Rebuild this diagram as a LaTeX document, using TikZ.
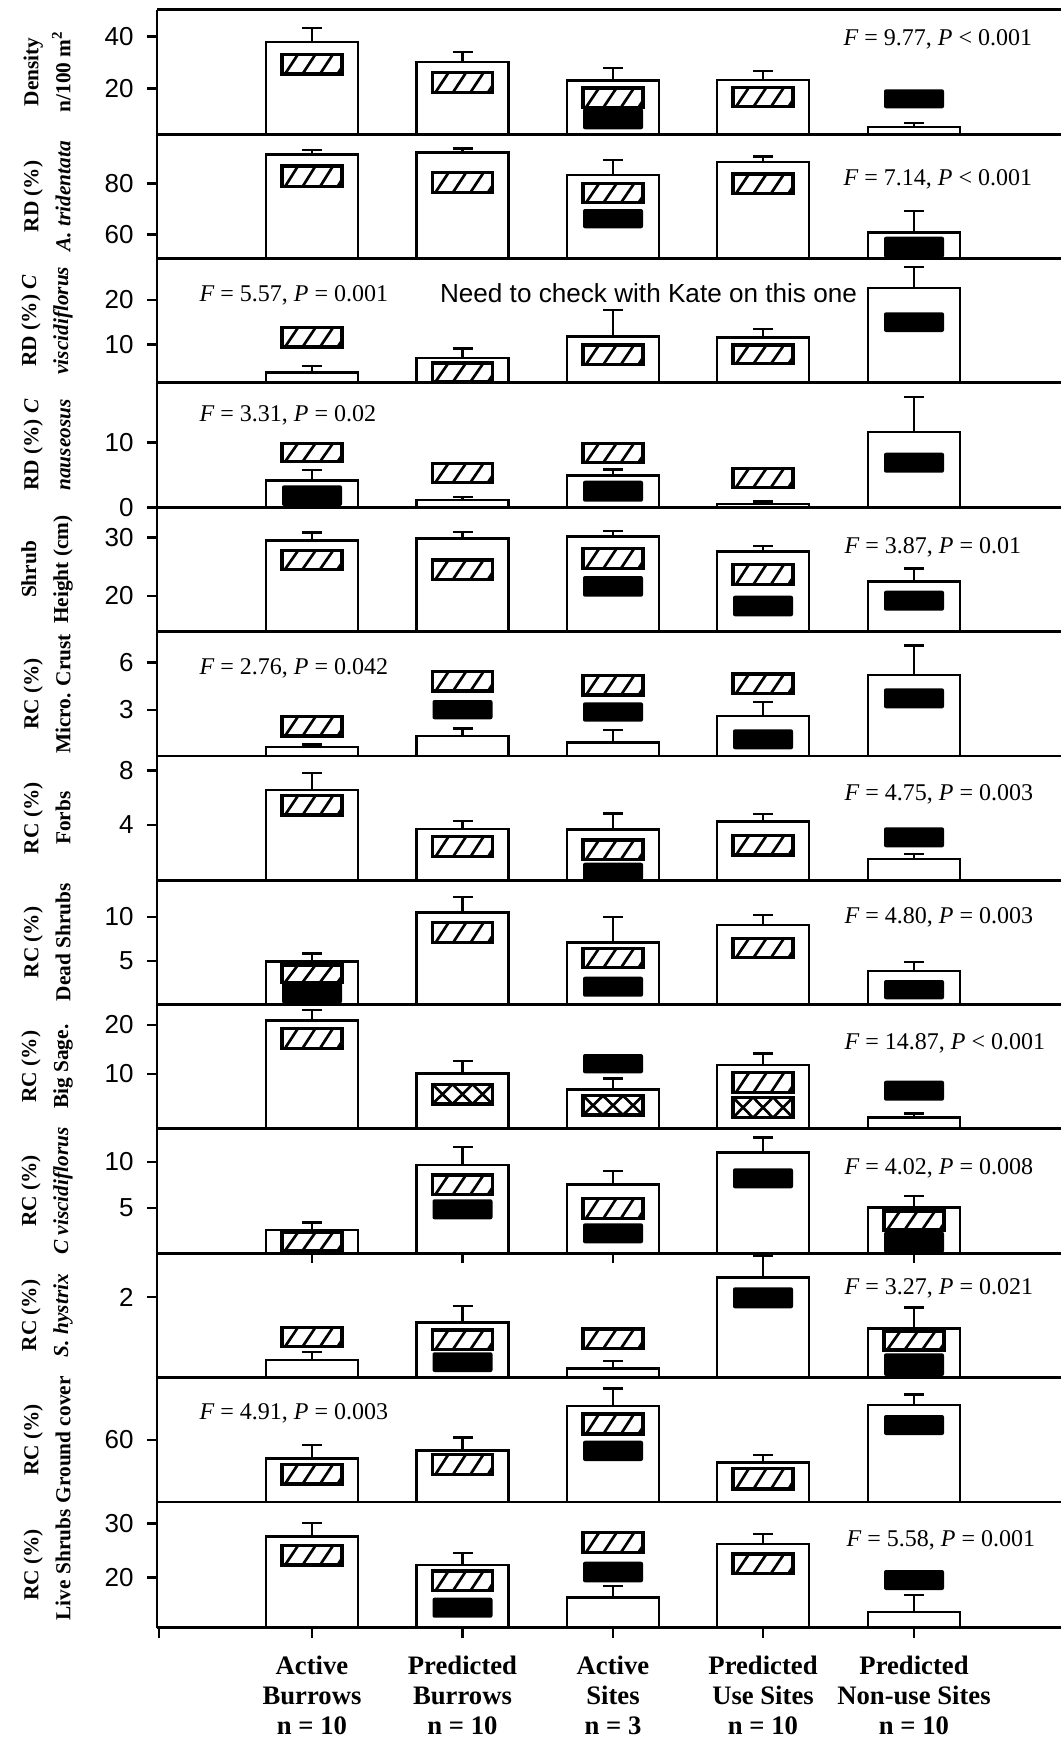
\documentclass[tikz,border=0pt]{standalone}
\usepackage{fontspec}
\setmainfont{Liberation Serif}
\newfontfamily\arialfont{Liberation Sans}

\tikzset{every picture/.style={line width=0.75pt}}
\tikzset{
  frameline/.style={line width=2.2pt},
  barline/.style={draw, fill=white, line width=2pt},
  errline/.style={line width=1.8pt},
  boxline/.style={line width=2.3pt},
  hatchline/.style={line width=2pt},
  fptext/.style={anchor=west, inner sep=0pt, font=\fontsize{18}{20}\selectfont},
  notetext/.style={inner sep=0pt, font=\arialfont\fontsize{19.6}{22}\selectfont},
  ticklab/.style={anchor=east, inner sep=0pt, font=\arialfont\fontsize{19.5}{20}\selectfont},
  ytitle/.style={rotate=90, align=center, inner sep=0pt, font=\bfseries\fontsize{16}{24}\selectfont},
  catlab/.style={align=center, inner sep=0pt, font=\bfseries\fontsize{20}{22.5}\selectfont}
}

% bar: centre x, bottom, top, error top
\newcommand{\plotbar}[4]{%
  \draw[barline] (#1-46,#2) rectangle (#1+46,#3);
  \draw[errline] (#1,#3) -- (#1,#4) (#1-10,#4) -- (#1+10,#4);}
% boxes: centre x, top, bottom
\newcommand{\hatchbox}[3]{%
  \fill[white] (#1-30,#2) rectangle (#1+30,#3);
  \begin{scope}
    \clip (#1-30,#2) rectangle (#1+30,#3);
    \foreach \s in {-27,-9.5,8,25.5}
      \draw[hatchline] (#1+\s,#3) -- (#1+\s+13,#2);
  \end{scope}
  \draw[boxline] (#1-30,#2) rectangle (#1+30,#3);}
\newcommand{\crossbox}[3]{%
  \fill[white] (#1-30,#2) rectangle (#1+30,#3);
  \begin{scope}
    \clip (#1-30,#2) rectangle (#1+30,#3);
    \foreach \s in {-20,0,20}
      \draw[hatchline] (#1+\s-10,#3) -- (#1+\s+10,#2) (#1+\s-10,#2) -- (#1+\s+10,#3);
  \end{scope}
  \draw[boxline] (#1-30,#2) rectangle (#1+30,#3);}
\newcommand{\blackbox}[3]{%
  \fill[black, rounded corners=1.5pt] (#1-30,#2) rectangle (#1+30,#3);}
% y tick: node name, y, label
\newcommand{\ytick}[3]{%
  \draw[frameline] (147,#2) -- (157,#2);
  \node[ticklab] (#1) at (134,#2) {#3};}

\begin{document}
\begin{tikzpicture}[x=0.75pt,y=0.75pt,yscale=-1,xscale=1]
\useasboundingbox (0,0) rectangle (1061,1742);
\fill[white] (0,0) rectangle (1061,1742);

%Panel: Density
\plotbar{312}{134.3}{42}{28}
\hatchbox{312}{54.3}{74}
\plotbar{462.5}{134.3}{62}{51.7}
\hatchbox{462.5}{72.7}{92.3}
\plotbar{613}{134.3}{80.7}{67.7}
\hatchbox{613}{88}{107.3}
\blackbox{613}{108.3}{129.3}
\plotbar{763}{134.3}{80}{70.7}
\hatchbox{763}{87.3}{106.7}
\plotbar{914}{134.3}{127}{123}
\blackbox{914}{89.3}{108.3}

%Panel: A. tridentata
\plotbar{312}{258.5}{154.3}{150}
\hatchbox{312}{166}{186.7}
\plotbar{462.5}{258.5}{152.7}{148.3}
\hatchbox{462.5}{172.7}{192.3}
\plotbar{613}{258.5}{175}{159.7}
\hatchbox{613}{183.7}{202.7}
\blackbox{613}{209}{228.3}
\plotbar{763}{258.5}{162}{156.3}
\hatchbox{763}{174}{193.5}
\plotbar{914}{258.5}{232.7}{211}
\blackbox{914}{236.7}{257.7}

%Panel: RD C. viscidiflorus
\plotbar{312}{382.8}{372.3}{365.7}
\hatchbox{312}{327.7}{347}
\plotbar{462.5}{382.8}{358}{348.3}
\hatchbox{462.5}{363}{381.7}
\plotbar{613}{382.8}{336.3}{310}
\hatchbox{613}{345}{364.3}
\plotbar{763}{382.8}{337.7}{329}
\hatchbox{763}{345}{363.7}
\plotbar{914}{382.8}{288}{266.7}
\blackbox{914}{312.3}{332}

%Panel: RD C. nauseosus
\plotbar{312}{507.2}{480.7}{470}
\hatchbox{312}{443.3}{461.7}
\blackbox{312}{485.3}{506}
\plotbar{462.5}{507.2}{500}{496.7}
\hatchbox{462.5}{463.3}{482.3}
\plotbar{613}{507.2}{475.3}{469.3}
\hatchbox{613}{443.3}{462.3}
\blackbox{613}{480.7}{501.7}
\plotbar{763}{507.2}{504}{501.3}
\hatchbox{763}{468.3}{487.3}
\plotbar{914}{507.2}{432}{396.7}
\blackbox{914}{452.7}{472.7}

%Panel: Shrub height
\plotbar{312}{631.7}{540.7}{532.3}
\hatchbox{312}{550.7}{569.3}
\plotbar{462.5}{631.7}{538.7}{531.7}
\hatchbox{462.5}{560}{579.3}
\plotbar{613}{631.7}{536.3}{531}
\hatchbox{613}{548.7}{568.3}
\blackbox{613}{576}{596.7}
\plotbar{763}{631.7}{551.7}{545.7}
\hatchbox{763}{564.3}{584.3}
\blackbox{763}{595.7}{616.3}
\plotbar{914}{631.7}{581.7}{568.3}
\blackbox{914}{590.7}{610.7}

%Panel: Micro. crust
\plotbar{312}{756}{747}{744.3}
\hatchbox{312}{716.7}{736}
\plotbar{462.5}{756}{736}{728.3}
\hatchbox{462.5}{671.7}{691}
\blackbox{462.5}{700}{719.3}
\plotbar{613}{756}{742.7}{730}
\hatchbox{613}{675.7}{695}
\blackbox{613}{702.3}{721.7}
\plotbar{763}{756}{716}{701.7}
\hatchbox{763}{674}{693.3}
\blackbox{763}{729.3}{749.3}
\plotbar{914}{756}{675}{645.3}
\blackbox{914}{688.3}{708.3}

%Panel: Forbs
\plotbar{312}{880.3}{790}{772.7}
\hatchbox{312}{795.7}{815}
\plotbar{462.5}{880.3}{829}{820.7}
\hatchbox{462.5}{836.7}{856.7}
\plotbar{613}{880.3}{829.3}{813.3}
\hatchbox{613}{840}{859.3}
\blackbox{613}{862.7}{880.3}
\plotbar{763}{880.3}{821.7}{814}
\hatchbox{763}{835.7}{855}
\plotbar{914}{880.3}{859}{854}
\blackbox{914}{827.3}{847.3}

%Panel: Dead shrubs
\plotbar{312}{1004.5}{961.7}{953.3}
\hatchbox{312}{965}{982.3}
\blackbox{312}{982.3}{1003.3}
\plotbar{462.5}{1004.5}{912.3}{896.7}
\hatchbox{462.5}{922.7}{942.7}
\plotbar{613}{1004.5}{942.3}{916.7}
\hatchbox{613}{948.3}{967.7}
\blackbox{613}{976.7}{996.7}
\plotbar{763}{1004.5}{925}{915}
\hatchbox{763}{938.3}{957.7}
\plotbar{914}{1004.5}{971}{961.7}
\blackbox{914}{980}{999.3}

%Panel: Big sage
\plotbar{312}{1128.6}{1020.7}{1010}
\hatchbox{312}{1028.3}{1048.3}
\plotbar{462.5}{1128.6}{1073.3}{1061}
\crossbox{462.5}{1084.3}{1104}
\plotbar{613}{1128.6}{1089.3}{1078.3}
\blackbox{613}{1054}{1073.3}
\crossbox{613}{1095.7}{1115}
\plotbar{763}{1128.6}{1065}{1053.3}
\hatchbox{763}{1072.7}{1092.3}
\crossbox{763}{1097.3}{1117.7}
\plotbar{914}{1128.6}{1117.3}{1113.3}
\blackbox{914}{1080.7}{1100.7}

%Panel: RC C. viscidiflorus
\plotbar{312}{1253.4}{1230}{1222.3}
\hatchbox{312}{1232.3}{1250.7}
\plotbar{462.5}{1253.4}{1165}{1146.7}
\hatchbox{462.5}{1175}{1194.3}
\blackbox{462.5}{1199.3}{1219.3}
\plotbar{613}{1253.4}{1184.3}{1170.7}
\hatchbox{613}{1198.3}{1218.3}
\blackbox{613}{1223.3}{1243.3}
\plotbar{763}{1253.4}{1152.3}{1137.3}
\blackbox{763}{1168.3}{1188.3}
\plotbar{914}{1253.4}{1207.3}{1195.7}
\hatchbox{914}{1211}{1230}
\blackbox{914}{1231.7}{1252.7}

%Panel: S. hystrix
\plotbar{312}{1377.6}{1360}{1351.7}
\hatchbox{312}{1327.3}{1346.7}
\plotbar{462.5}{1377.6}{1322.7}{1306}
\hatchbox{462.5}{1330}{1349.3}
\blackbox{462.5}{1352.3}{1372}
\plotbar{613}{1377.6}{1368.3}{1360.7}
\hatchbox{613}{1329}{1348.3}
\plotbar{763}{1377.6}{1277.3}{1256}
\blackbox{763}{1287.3}{1308.3}
\plotbar{914}{1377.6}{1328.3}{1307.3}
\hatchbox{914}{1331.7}{1350}
\blackbox{914}{1353.3}{1376}

%Panel: Ground cover
\plotbar{312}{1502}{1458.3}{1445}
\hatchbox{312}{1464.3}{1484}
\plotbar{462.5}{1502}{1450.7}{1437.3}
\hatchbox{462.5}{1454.3}{1474.3}
\plotbar{613}{1502}{1406}{1388.3}
\hatchbox{613}{1414}{1434}
\blackbox{613}{1440.7}{1461}
\plotbar{763}{1502}{1462.7}{1455}
\hatchbox{763}{1468.3}{1489}
\plotbar{914}{1502}{1405}{1394.3}
\blackbox{914}{1415}{1435}

%Panel: Live shrubs
\plotbar{312}{1627.5}{1536.7}{1522.7}
\hatchbox{312}{1545.7}{1565}
\plotbar{462.5}{1627.5}{1565}{1552.7}
\hatchbox{462.5}{1571}{1590.7}
\blackbox{462.5}{1597.7}{1617.7}
\plotbar{613}{1627.5}{1597.3}{1585.7}
\hatchbox{613}{1532.7}{1552.3}
\blackbox{613}{1561.7}{1582.3}
\plotbar{763}{1627.5}{1544}{1534}
\hatchbox{763}{1554}{1573.3}
\plotbar{914}{1627.5}{1612}{1595}
\blackbox{914}{1570}{1590}

%Axes and panel lines
\draw[frameline] (157,9.5) -- (157,1627.5);
\foreach \y in {9.5,134.3,258.5,382.8,507.2,631.7,756,880.3,1004.5,1128.6,1253.4,1377.6,1502,1627.5}
  \draw[frameline] (157,\y) -- (1061,\y);
\foreach \x in {159,312,462.5,613,763,914}
  \draw[frameline] (\x,1627.5) -- (\x,1638);
\foreach \x in {312,462.5,613,763,914}
  \draw[frameline] (\x,1253.4) -- (\x,1263);

%Y ticks
\ytick{ta1}{36.7}{40}
\ytick{ta2}{88.7}{20}
\ytick{tb1}{183.3}{80}
\ytick{tb2}{234.3}{60}
\ytick{tc1}{300}{20}
\ytick{tc2}{344.3}{10}
\ytick{td1}{442.7}{10}
\ytick{td2}{507.2}{0}
\ytick{te1}{537.3}{30}
\ytick{te2}{596}{20}
\ytick{tf1}{662.7}{6}
\ytick{tf2}{710}{3}
\ytick{tg1}{770.7}{8}
\ytick{tg2}{825}{4}
\ytick{th1}{917}{10}
\ytick{th2}{961}{5}
\ytick{ti1}{1025}{20}
\ytick{ti2}{1074}{10}
\ytick{tj1}{1162}{10}
\ytick{tj2}{1208}{5}
\ytick{tk1}{1297}{2}
\ytick{tl1}{1440}{60}
\ytick{tm1}{1523.3}{30}
\ytick{tm2}{1577.3}{20}

% Text Node: panel titles
\node[ytitle] (ya) at (47,71.9) {Density\\n/100 m\textsuperscript{2}};
\node[ytitle] (yb) at (47,196.4) {RD (\%)\\\textit{A. tridentata}};
\node[ytitle] (yc) at (47,320.7) {RD (\%) \textit{C}\\\textit{viscidiflorus}};
\node[ytitle] (yd) at (47,445) {RD (\%) \textit{C}\\\textit{nauseosus}};
\node[ytitle] (ye) at (47,569.5) {Shrub\\Height (cm)};
\node[ytitle] (yf) at (47,693.9) {RC (\%)\\Micro. Crust};
\node[ytitle] (yg) at (47,818.2) {RC (\%)\\Forbs};
\node[ytitle] (yh) at (47,942.4) {RC (\%)\\Dead Shrubs};
\node[ytitle] (yi) at (47,1066.6) {RC (\%)\\Big Sage.};
\node[ytitle] (yj) at (47,1191) {RC (\%)\\\textit{C viscidiflorus}};
\node[ytitle] (yk) at (47,1315.5) {RC (\%)\\\textit{S. hystrix}};
\node[ytitle] (yl) at (47,1439.8) {RC (\%)\\Ground cover};
\node[ytitle] (ym) at (47,1564.8) {RC (\%)\\Live Shrubs};

% Text Node: test results
\node[fptext] (fa) at (843,39.3) {\textit{F} = 9.77, \textit{P} < 0.001};
\node[fptext] (fb) at (843,179.3) {\textit{F} = 7.14, \textit{P} < 0.001};
\node[fptext] (fc) at (199,295) {\textit{F} = 5.57, \textit{P} = 0.001};
\node[fptext] (fd) at (199,415) {\textit{F} = 3.31, \textit{P} = 0.02};
\node[fptext] (fe) at (844,547.3) {\textit{F} = 3.87, \textit{P} = 0.01};
\node[fptext] (ff) at (199,668.3) {\textit{F} = 2.76, \textit{P} = 0.042};
\node[fptext] (fg) at (844,794.3) {\textit{F} = 4.75, \textit{P} = 0.003};
\node[fptext] (fh) at (844,917.7) {\textit{F} = 4.80, \textit{P} = 0.003};
\node[fptext] (fi) at (844,1043.3) {\textit{F} = 14.87, \textit{P} < 0.001};
\node[fptext] (fj) at (844,1168.3) {\textit{F} = 4.02, \textit{P} = 0.008};
\node[fptext] (fk) at (844,1288.3) {\textit{F} = 3.27, \textit{P} = 0.021};
\node[fptext] (fl) at (199,1413.3) {\textit{F} = 4.91, \textit{P} = 0.003};
\node[fptext] (fm) at (846,1540) {\textit{F} = 5.58, \textit{P} = 0.001};
\node[notetext] (note) at (648.5,293) {Need to check with Kate on this one};

% Text Node: groups
\node[catlab] (ga) at (312,1695) {Active\\Burrows\\n = 10};
\node[catlab] (gb) at (462.5,1695) {Predicted\\Burrows\\n = 10};
\node[catlab] (gc) at (613,1695) {Active\\Sites\\n = 3};
\node[catlab] (gd) at (763,1695) {Predicted\\Use Sites\\n = 10};
\node[catlab] (ge) at (914,1695) {Predicted\\Non-use Sites\\n = 10};

\end{tikzpicture}
\end{document}
